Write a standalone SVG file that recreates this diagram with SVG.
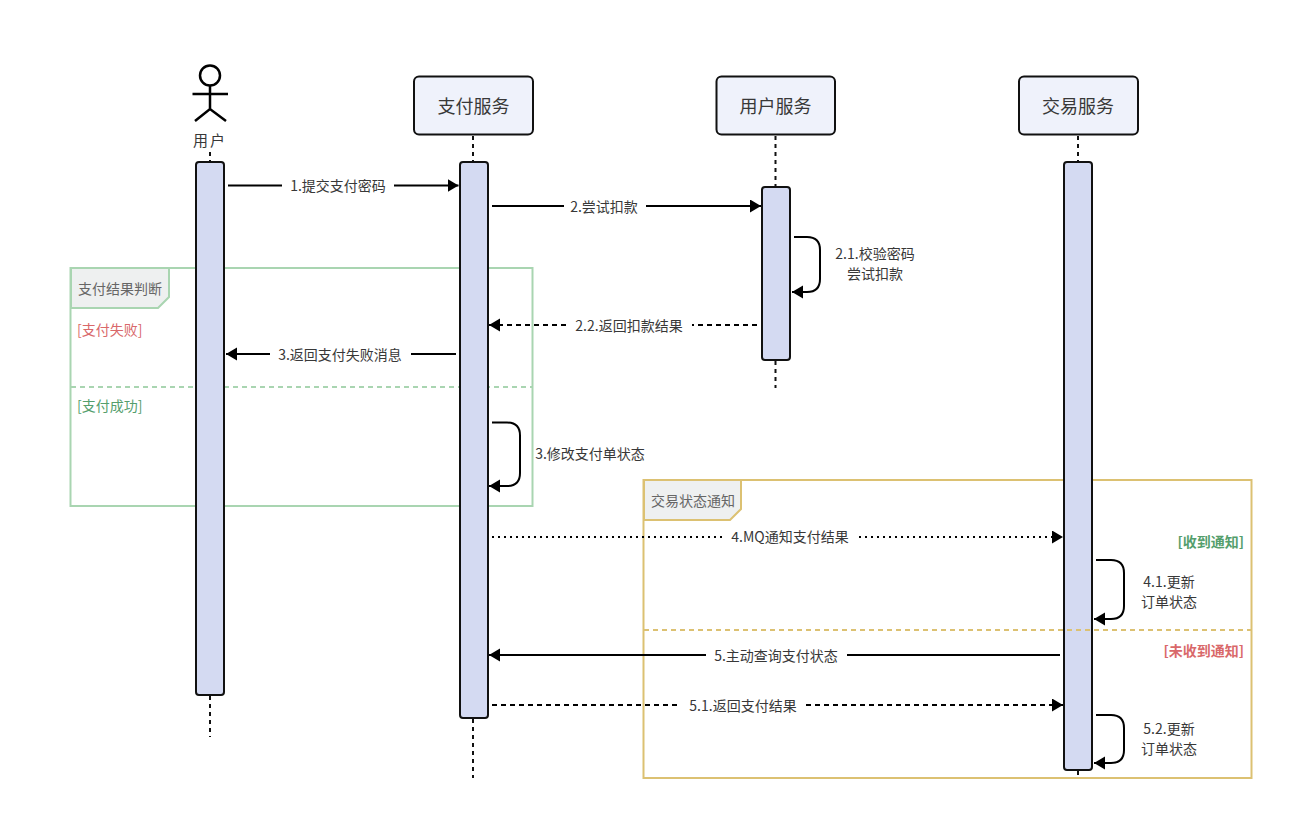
<svg xmlns="http://www.w3.org/2000/svg" width="1315" height="817" viewBox="0 0 1315 817">
<style>
text{font-family:"Noto Sans CJK SC","Liberation Sans",sans-serif;fill:#383838;font-size:14px;text-anchor:middle}
.box{fill:#eff2fb;stroke:#111;stroke-width:2}
.bar{fill:#d4daf2;stroke:#111;stroke-width:2}
.life{fill:none;stroke:#111;stroke-width:2;stroke-dasharray:4 4}
.m{fill:none;stroke:#000;stroke-width:2}
.dash{stroke-dasharray:5 4}
.dot{stroke-dasharray:2 4}
.gf{fill:none;stroke:#a9d5b1;stroke-width:2}
.yf{fill:none;stroke:#dcc172;stroke-width:2}
.tab{fill:#eef0f0}
.title{font-size:18px}
.st{text-anchor:start}
.en{text-anchor:end}
.tt{fill:#666}
.r{fill:#d9686a}
.g{fill:#549e6c}
.b{font-weight:700}
</style>
<defs>
<marker id="a" markerUnits="userSpaceOnUse" markerWidth="12" markerHeight="14" refX="11" refY="6.500" orient="auto"><path d="M0 0L11 6.500L0 13Z" fill="#000"/></marker>
</defs>
<g id="frame-payment">
<rect class="gf" x="70.500" y="268" width="462" height="238"/>
<path class="gf tab" d="M71 268H169V297L158 308H71Z"/>
<line class="gf" x1="71" y1="387" x2="532" y2="387" stroke-dasharray="5 4"/>
<text class="st tt" x="78" y="293.500">支付结果判断</text>
<text class="st r" x="77" y="335">[支付失败]</text>
<text class="st g" x="77" y="411">[支付成功]</text>
</g>
<g id="frame-notify">
<rect class="yf" x="643.500" y="480" width="608" height="298"/>
<path class="yf tab" d="M644 480H741V509L730 520H644Z"/>
<text class="st tt" x="651" y="505.500">交易状态通知</text>
</g>
<g id="lifelines">
<line class="life" x1="210" y1="152" x2="210" y2="162"/>
<line class="life" x1="210" y1="696" x2="210" y2="737"/>
<line class="life" x1="473" y1="136" x2="473" y2="162"/>
<line class="life" x1="473" y1="719" x2="473" y2="778"/>
<line class="life" x1="775.500" y1="136" x2="775.500" y2="187"/>
<line class="life" x1="775.500" y1="361" x2="775.500" y2="388"/>
<line class="life" x1="1078" y1="136" x2="1078" y2="162"/>
<line class="life" x1="1078" y1="771" x2="1078" y2="779"/>
</g>
<g id="user">
<g fill="none" stroke="#000" stroke-width="2.500">
<circle cx="210" cy="75.500" r="10"/>
<path d="M210 86V109M192.500 94H228M195 121L210 109L226 121"/>
</g>
<text x="210" y="146" style="font-size:15px;letter-spacing:2px">用户</text>
<rect class="bar" x="196" y="162" width="28" height="533" rx="3"/>
</g>
<g id="pay-service">
<rect class="box" x="414" y="76.500" width="119" height="58" rx="5"/>
<text class="title" x="473.500" y="112.500">支付服务</text>
<rect class="bar" x="460" y="162" width="28" height="556" rx="3"/>
</g>
<g id="user-service">
<rect class="box" x="716.500" y="76.500" width="118.500" height="58" rx="5"/>
<text class="title" x="775.500" y="112.500">用户服务</text>
<rect class="bar" x="762" y="187" width="28" height="173" rx="3"/>
</g>
<g id="trade-service">
<rect class="box" x="1019" y="76.500" width="119" height="58" rx="5"/>
<text class="title" x="1078" y="112.500">交易服务</text>
<rect class="bar" x="1064" y="162" width="28" height="608" rx="3"/>
</g>
<g id="notify-overlay">
<line class="yf" x1="644" y1="630" x2="1251" y2="630" stroke-dasharray="5 4"/>
<text class="en g b" x="1244" y="546.500">[收到通知]</text>
<text class="en r b" x="1244" y="655.500">[未收到通知]</text>
</g>
<g id="connectors">
<path class="m" d="M228 185.500H282M394 185.500H458.500" marker-end="url(#a)"/>
<path class="m" d="M492 206H564M646 206H761" marker-end="url(#a)"/>
<path class="m" d="M794 237H807Q820 237 820 250V279Q820 292 807 292H792" marker-end="url(#a)"/>
<path class="m dash" d="M757 325H692M566 325H489" marker-end="url(#a)"/>
<path class="m" d="M456 354H411M270 354H226" marker-end="url(#a)"/>
<path class="m" d="M492 422.500H507Q520 422.500 520 435.500V473Q520 486 507 486H489" marker-end="url(#a)"/>
<path class="m dot" d="M492 537H722M859 537H1063" marker-end="url(#a)"/>
<path class="m" d="M1096 560H1111Q1124 560 1124 573V606Q1124 619 1111 619H1094" marker-end="url(#a)"/>
<path class="m" d="M1060 655H847M706 655H489" marker-end="url(#a)"/>
<path class="m dash" d="M492 705H680M806 705H1063" marker-end="url(#a)"/>
<path class="m" d="M1096 715H1111Q1124 715 1124 728V750Q1124 763 1111 763H1094" marker-end="url(#a)"/>
</g>
<g id="labels">
<text x="338" y="191">1.提交支付密码</text>
<text x="604" y="211.500">2.尝试扣款</text>
<text x="875" y="258.500">2.1.校验密码</text>
<text x="875" y="278.500">尝试扣款</text>
<text x="629" y="330.500">2.2.返回扣款结果</text>
<text x="340" y="359.500">3.返回支付失败消息</text>
<text x="590" y="459">3.修改支付单状态</text>
<text x="790" y="542">4.MQ通知支付结果</text>
<text x="1169" y="587">4.1.更新</text>
<text x="1169" y="607">订单状态</text>
<text x="776" y="660.500">5.主动查询支付状态</text>
<text x="743" y="710.500">5.1.返回支付结果</text>
<text x="1169" y="734">5.2.更新</text>
<text x="1169" y="754">订单状态</text>
</g>
</svg>
